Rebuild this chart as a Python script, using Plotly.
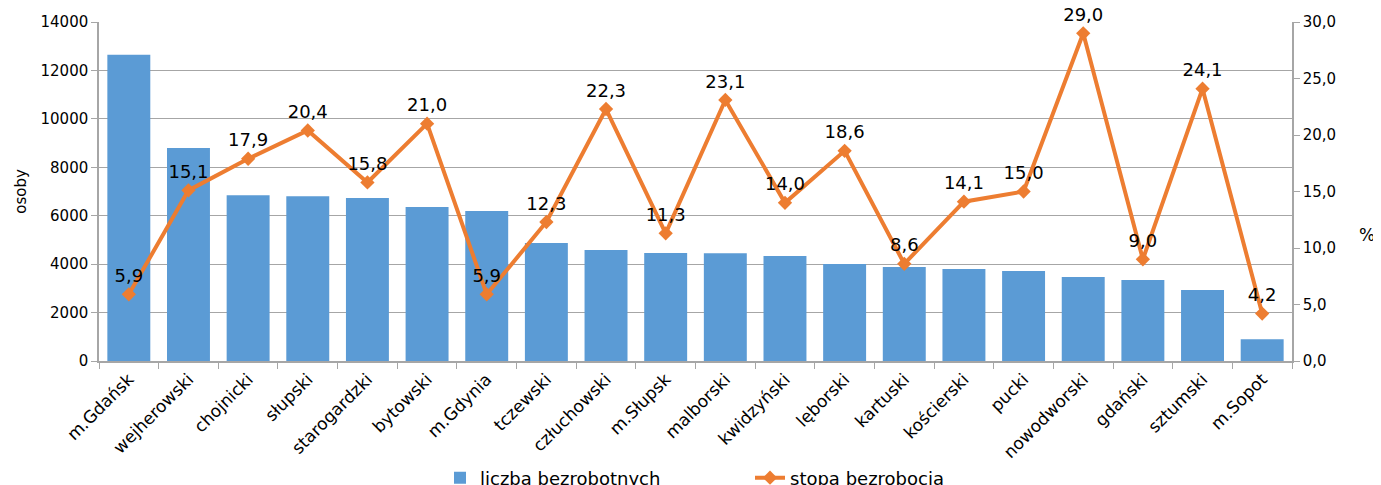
import plotly.graph_objects as go

categories = ["m.Gdańsk", "wejherowski", "chojnicki", "słupski", "starogardzki", "bytowski",
              "m.Gdynia", "tczewski", "człuchowski", "m.Słupsk", "malborski", "kwidzyński",
              "lęborski", "kartuski", "kościerski", "pucki", "nowodworski", "gdański",
              "sztumski", "m.Sopot"]
unemployed = [12650, 8800, 6850, 6800, 6730, 6360, 6190, 4870, 4580, 4460, 4450, 4340,
              4010, 3880, 3800, 3720, 3470, 3340, 2930, 900]
rate = [5.9, 15.1, 17.9, 20.4, 15.8, 21.0, 5.9, 12.3, 22.3, 11.3, 23.1, 14.0, 18.6, 8.6,
        14.1, 15.0, 29.0, 9.0, 24.1, 4.2]
rate_labels = [f"{v:.1f}".replace(".", ",") for v in rate]

FONT = "DejaVu Sans"
GRID = "#a6a6a6"
OFF = 8  # page body margin
W, H = 1381 - OFF, 485 - OFF
L, T = 99 - OFF, 22 - OFF
R = W - (1292 - OFF)
B = H - (361 - OFF)
pw, ph = W - L - R, H - T - B


def px_x(page_x):
    return (page_x - OFF - L) / pw


def px_y(page_y):
    return (H - B - (page_y - OFF)) / ph


fig = go.Figure()
fig.add_trace(go.Bar(
    x=categories, y=unemployed, name="liczba bezrobotnych",
    marker=dict(color="#5b9bd5", line=dict(width=0)), yaxis="y"))
fig.add_trace(go.Scatter(
    x=categories, y=rate, name="stopa bezrobocia", yaxis="y2",
    mode="lines+markers+text", text=rate_labels, textposition="top center",
    textfont=dict(family=FONT, size=18, color="#000000"),
    line=dict(color="#ed7d31", width=4),
    marker=dict(symbol="diamond", size=11, color="#ed7d31"),
    cliponaxis=False))

fig.update_layout(
    width=W, height=H,
    margin=dict(l=L, r=R, t=T, b=B, autoexpand=False),
    paper_bgcolor="white", plot_bgcolor="white",
    separators=", ",
    font=dict(family=FONT, size=15, color="#000000"),
    bargap=0.28,
    showlegend=True,
    legend=dict(orientation="h", xref="paper", yref="paper",
                x=px_x(440), xanchor="left",
                y=px_y(478), yanchor="middle",
                font=dict(family=FONT, size=18),
                entrywidthmode="pixels", entrywidth=265,
                bgcolor="rgba(0,0,0,0)"),
    xaxis=dict(
        type="category", range=[-0.5, len(categories) - 0.5],
        tickangle=-45, tickson="boundaries",
        ticks="outside", ticklen=6, tickcolor=GRID,
        showline=True, linecolor=GRID, linewidth=1.5, showgrid=False,
        automargin=False,
        tickfont=dict(family=FONT, size=17)),
    yaxis=dict(
        range=[0, 14000], dtick=2000, tickformat="d",
        showgrid=True, gridcolor=GRID, gridwidth=1,
        showline=True, linecolor=GRID, linewidth=1.5,
        ticks="outside", ticklen=6, tickcolor=GRID, automargin=False,
        title=dict(text="osoby", font=dict(family=FONT, size=15), standoff=10),
        tickfont=dict(family=FONT, size=15), zeroline=False),
    yaxis2=dict(
        range=[0, 30], dtick=5, tickformat=".1f", overlaying="y", side="right",
        showgrid=False, showline=True, linecolor=GRID, linewidth=1.5,
        ticks="outside", ticklen=6, tickcolor=GRID, automargin=False,
        tickfont=dict(family=FONT, size=15), zeroline=False),
    annotations=[dict(text="%", x=px_x(1377), y=px_y(235),
                      xref="paper", yref="paper",
                      showarrow=False, font=dict(family=FONT, size=17))]
)

fig.write_html("out.html")
